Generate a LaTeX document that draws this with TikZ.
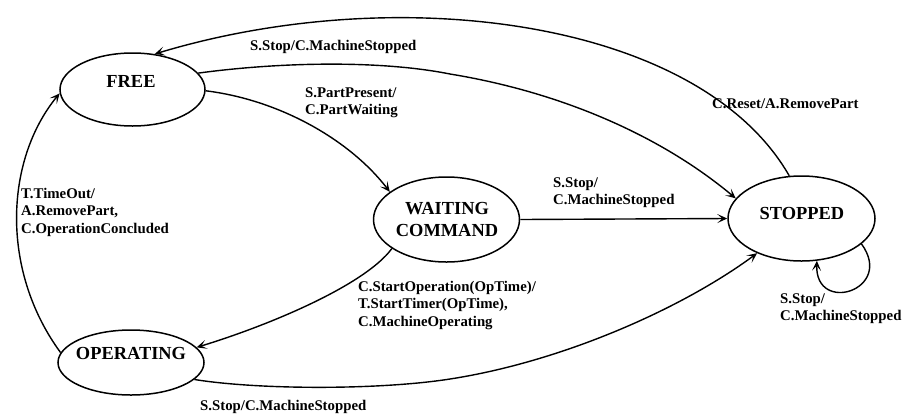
\documentclass[tikz,border=0pt]{standalone}
\usepackage{fontspec}
\setmainfont{Liberation Serif}
\usetikzlibrary{arrows.meta,shapes.geometric}
\begin{document}
\begin{tikzpicture}[x=1pt,y=-1pt,
  state/.style={draw,ellipse,line width=1.5pt,inner sep=0pt},
  stext/.style={font=\fontsize{18.4}{22}\selectfont\bfseries,align=center,inner sep=0pt},
  lbl/.style={font=\fontsize{14.8}{17.5}\selectfont\bfseries,align=left,inner sep=0pt,anchor=north west},
  tr/.style={line width=1.4pt,-{Stealth[length=10pt,width=9pt,inset=5pt]}}]
\useasboundingbox (0,0) rectangle (904,416);
% states
\node[state,minimum width=145pt,minimum height=73pt] (F) at (132.5,89.5) {};
\node[state,minimum width=146pt,minimum height=85pt] (W) at (446.5,219.5) {};
\node[state,minimum width=147pt,minimum height=85pt] (S) at (801.5,218.5) {};
\node[state,minimum width=146pt,minimum height=65pt] (O) at (131,362.5) {};
\node[stext] (Ft) at (131,81) {FREE};
\node[stext] (Wt) at (447,219) {WAITING\\COMMAND};
\node[stext] (St) at (802,213) {STOPPED};
\node[stext] (Ot) at (131,353) {OPERATING};
% transitions
\draw[tr] (S.106) .. controls (700,20) and (400,-20) .. (F.58);
\draw[tr] (F.14) .. controls (280,62) and (380,60) .. (450,74)
          .. controls (560,92) and (660,135) .. (S.163);
\draw[tr] (F.-1) .. controls (280,100) and (350,140) .. (W.154);
\draw[tr] (W.east) -- (S.west);
\draw[tr] (W.208) .. controls (365,285) and (270,325) .. (O.13);
\draw[tr] (O.-15) .. controls (260,390) and (380,390) .. (450,379)
          .. controls (560,362) and (680,310) .. (S.218);
\draw[tr] (O.172) .. controls (0,270) and (5,160) .. (F.183);
\draw[tr] (S.-23) .. controls (895,290) and (815,315) .. (S.-70);
% labels
\node[lbl] (l1) at (250,40) {S.Stop/C.MachineStopped};
\node[lbl] (l2) at (712,98) {C.Reset/A.RemovePart};
\node[lbl] (l3) at (305,87) {S.PartPresent/\\C.PartWaiting};
\node[lbl] (l4) at (553,177) {S.Stop/\\C.MachineStopped};
\node[lbl] (l5) at (21,188) {T.TimeOut/\\A.RemovePart,\\C.OperationConcluded};
\node[lbl] (l6) at (358,281) {C.StartOperation(OpTime)/\\T.StartTimer(OpTime),\\C.MachineOperating};
\node[lbl] (l7) at (200,400) {S.Stop/C.MachineStopped};
\node[lbl] (l8) at (780,293) {S.Stop/\\C.MachineStopped};
\end{tikzpicture}
\end{document}
